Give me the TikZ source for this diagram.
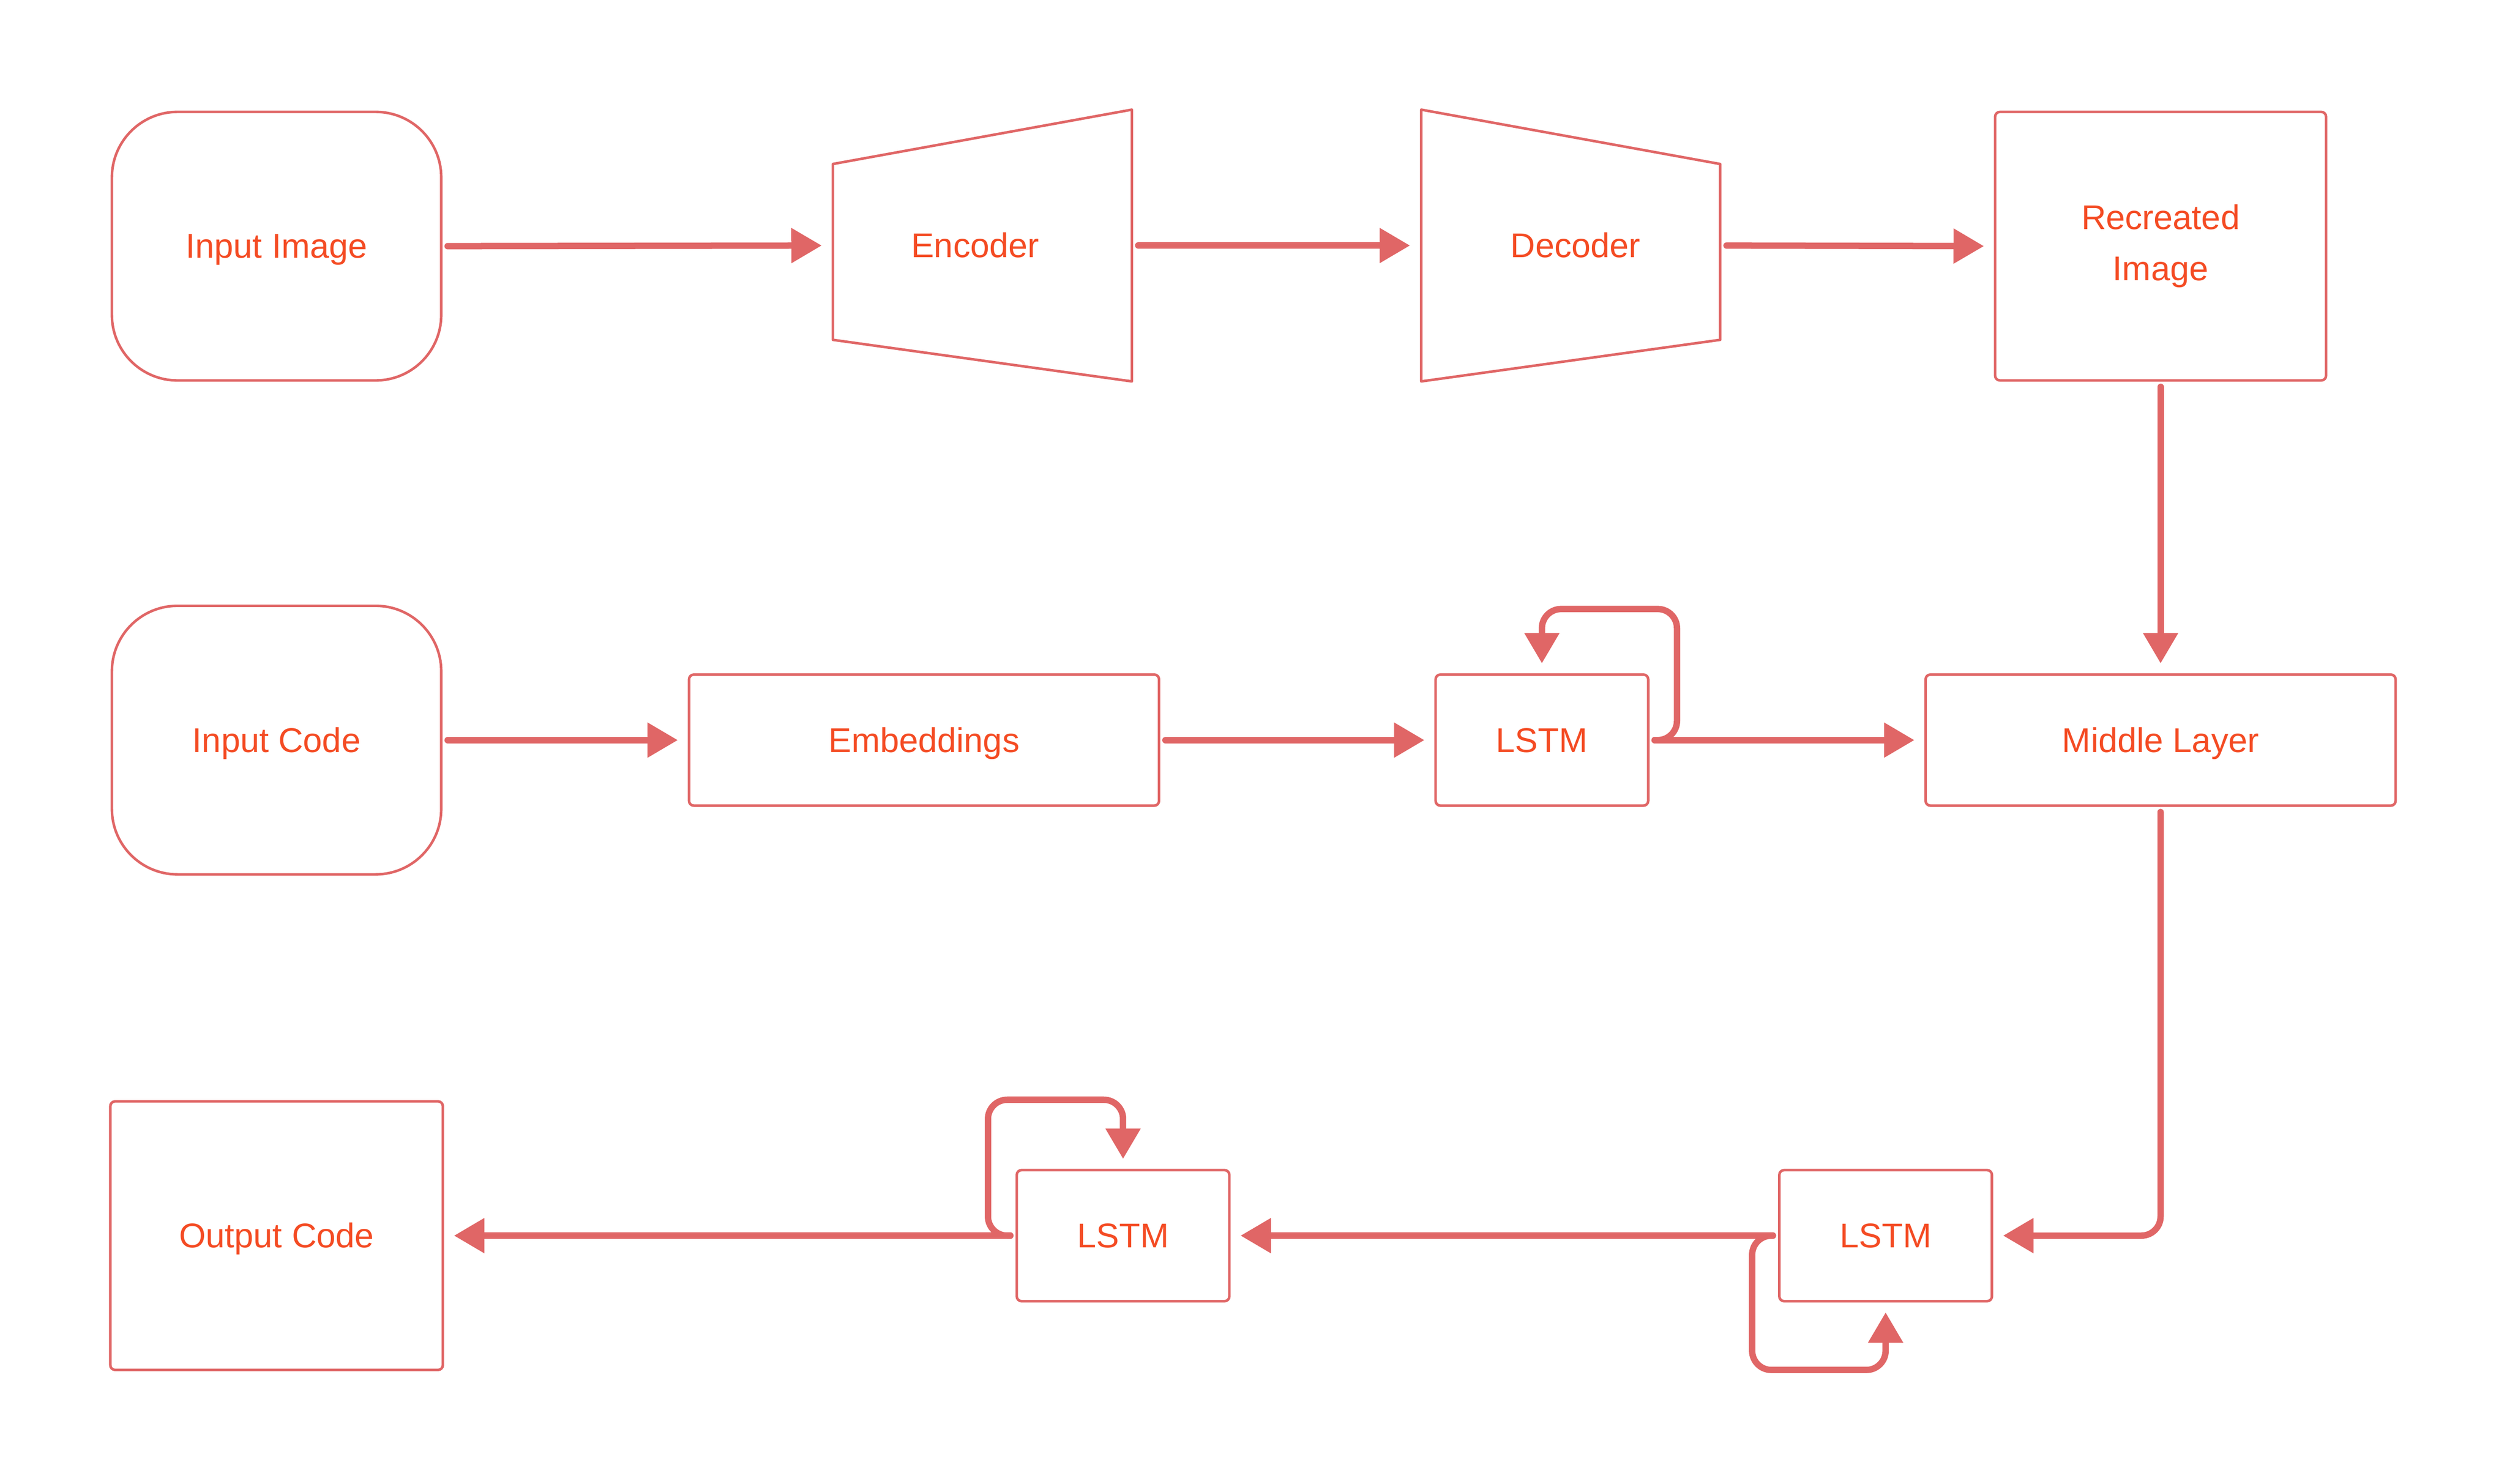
\documentclass[tikz,border=0pt]{standalone}
\usepackage{fontspec}
\setmainfont{Liberation Sans}
\usepackage{tikz}
\usepackage{xcolor}
\usetikzlibrary{positioning,arrows.meta,calc}
\definecolor{linered}{HTML}{E06666}
\definecolor{textred}{HTML}{F44B23}
\tikzset{
  basic/.style   = {draw=linered, line width=1.6pt, text=textred, align=center,
                    font=\fontsize{21.5}{32}\selectfont, inner sep=0pt, outer sep=0pt,
                    text height=20pt, text depth=5pt},
  io/.style      = {basic, rounded corners=41pt, minimum width=206pt,
                    minimum height=168pt},
  block/.style   = {basic, rounded corners=3pt, minimum height=82pt},
  coder/.style   = {basic, draw=none, minimum width=187pt, minimum height=170pt},
  outline/.style = {draw=linered, line width=1.6pt, line join=round},
  link/.style    = {->, draw=linered, line width=4pt, line cap=round,
                    rounded corners=12pt, shorten <=4pt, shorten >=7pt}
}
\begin{document}
\begin{tikzpicture}[x=1pt, y=-1pt,
  >={Triangle[length=19pt,width=21pt]}]
\useasboundingbox (0,0) rectangle (1568.2,928.1);

% image branch, first row
\node[io] (inimg) at (173,154) {Input Image};
\node[coder] (enc) at (614.5,153.6) {\hspace*{-9pt}Encoder};
\node[coder] (dec) at (982.5,153.6) {\hspace*{6pt}Decoder};
\node[block, minimum width=207pt, minimum height=168pt, text height=, text depth=]
  (recimg) at (1351.5,154) {Recreated\\Image};
% the two trapezoids
\draw[outline] (enc.north east) -- (enc.south east) -- ($(enc.south west)+(0,-26)$)
  -- ($(enc.north west)+(0,34)$) -- cycle;
\draw[outline] (dec.north west) -- (dec.south west) -- ($(dec.south east)+(0,-26)$)
  -- ($(dec.north east)+(0,34)$) -- cycle;

% code branch, second row
\node[io, below=141pt of inimg] (incode) {Input Code};
\node[block, minimum width=294pt] (emb) at (578,463) {Embeddings};
\node[block, minimum width=133pt] (lstma) at (964.5,463) {LSTM};
\node[block, minimum width=294pt, below=184pt of recimg] (mid) {Middle Layer};

% output branch, third row
\node[block, minimum width=133pt] (lstmc) at (1179.5,773) {LSTM};
\node[block, minimum width=133pt] (lstmb) at (702.5,773) {LSTM};
\node[block, minimum width=208pt, minimum height=168pt, below=142pt of incode] (outcode) {Output Code};

% loop corners
\coordinate (loopa) at (1049,381);
\coordinate (loopc) at (1096,857);
\coordinate (loopb) at (618,688);

\draw[link] (inimg.east) -- (enc.west);
\draw[link] (enc.east) -- (dec.west);
\draw[link] (dec.east) -- (recimg.west);
\draw[link] (recimg.south) -- (mid.north);

\draw[link] (incode.east) -- (emb.west);
\draw[link] (emb.east) -- (lstma.west);
\draw[link] (lstma.east) -- (mid.west);
\draw[link] (lstma.east) -| (loopa) -| (lstma.north);

\draw[link] (mid.south) |- (lstmc.east);
\draw[link] (lstmc.west) -| (loopc) -| (lstmc.south);
\draw[link] (lstmc.west) -- (lstmb.east);
\draw[link] (lstmb.west) -| (loopb) -| (lstmb.north);
\draw[link] (lstmb.west) -- (outcode.east);
\end{tikzpicture}
\end{document}
